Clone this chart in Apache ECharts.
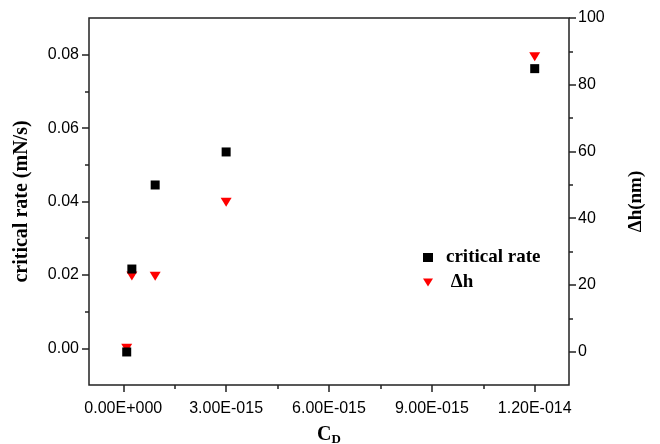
<!DOCTYPE html>
<html>
<head>
<meta charset="utf-8">
<script src="https://cdn.jsdelivr.net/npm/echarts@6/dist/echarts.min.js"></script>
<style>html,body{margin:0;padding:0;background:#fff}#chart{width:660px;height:444px}</style>
</head>
<body>
<div id="chart"></div>
<script>
// C_D values and the two measured quantities
const cd = [1e-16, 2.5e-16, 9.3e-16, 3.0e-15, 1.2e-14];
const criticalRate = [-0.001, 0.0216, 0.0445, 0.0535, 0.0762];
const deltaH = [1, 22.7, 22.6, 44.8, 88.4];

// axis ticks
const xTicks = [0, 3e-15, 6e-15, 9e-15, 1.2e-14];
const xTickLabels = ['0.00E+000', '3.00E-015', '6.00E-015', '9.00E-015', '1.20E-014'];
const xMinor = [1.5e-15, 4.5e-15, 7.5e-15, 1.05e-14];
const leftTicks = [0, 0.02, 0.04, 0.06, 0.08];
const leftTickLabels = ['0.00', '0.02', '0.04', '0.06', '0.08'];
const leftMinor = [0.01, 0.03, 0.05, 0.07];
const rightTicks = [0, 20, 40, 60, 80, 100];
const rightMinor = [10, 30, 50, 70, 90];

const lineCol = '#222';
const sans = 'Liberation Sans';
const serif = 'Liberation Serif';

function pick(values, labels, v) {
    let best = 0;
    values.forEach((x, i) => {
        if (Math.abs(x - v) < Math.abs(values[best] - v)) best = i;
    });
    return labels[best];
}

const minorAxis = (extra) => Object.assign({
    type: 'value',
    axisLine: { show: false, onZero: false },
    axisLabel: { show: false },
    splitLine: { show: false },
}, extra);

const chart = echarts.init(document.getElementById('chart'));
chart.setOption({
    backgroundColor: '#fff',
    animation: false,
    grid: {
        left: 89, right: 91, top: 18, bottom: 59,
        outerBoundsMode: 'none',
        show: true, borderColor: lineCol, borderWidth: 1.5
    },
    legend: {
        left: 418, top: 243, orient: 'vertical',
        itemWidth: 10, itemHeight: 9, itemGap: 6,
        textStyle: { fontFamily: serif, fontWeight: 'bold', fontSize: 19, color: '#000', padding: [0, 0, 0, 8] },
        data: [
            { name: 'critical rate', icon: 'rect' },
            { name: 'Δh', icon: 'path://M0,0L10,0L5,8Z' }
        ],
        formatter: (n) => n === 'Δh' ? ' Δh' : n
    },
    xAxis: [
        {
            type: 'value', position: 'bottom', min: -1e-15, max: 1.3e-14,
            axisLine: { show: false, onZero: false },
            axisTick: { customValues: xTicks, length: 7, lineStyle: { color: lineCol, width: 1.5 } },
            axisLabel: {
                customValues: xTicks, margin: 16,
                fontFamily: sans, fontSize: 16, color: '#000',
                formatter: (v) => pick(xTicks, xTickLabels, v)
            },
            splitLine: { show: false },
            name: '{c|C}{d|D}', nameLocation: 'middle', nameGap: 38,
            nameTextStyle: {
                rich: {
                    c: { fontFamily: serif, fontWeight: 'bold', fontSize: 20, color: '#000' },
                    d: { fontFamily: serif, fontWeight: 'bold', fontSize: 13, color: '#000', padding: [10, 0, 0, 0] }
                }
            }
        },
        minorAxis({
            position: 'bottom', min: -1e-15, max: 1.3e-14,
            axisTick: { customValues: xMinor, length: 4, lineStyle: { color: lineCol, width: 1.5 } }
        })
    ],
    yAxis: [
        {
            type: 'value', position: 'left', min: -0.01, max: 0.09,
            axisLine: { show: false, onZero: false },
            axisTick: { customValues: leftTicks, length: 7, lineStyle: { color: lineCol, width: 1.5 } },
            axisLabel: {
                customValues: leftTicks, margin: 10,
                fontFamily: sans, fontSize: 16, color: '#000',
                formatter: (v) => pick(leftTicks, leftTickLabels, v)
            },
            splitLine: { show: false },
            name: 'critical rate (mN/s)', nameLocation: 'middle', nameRotate: 90, nameGap: 57,
            nameTextStyle: { fontFamily: serif, fontWeight: 'bold', fontSize: 20, color: '#000' }
        },
        minorAxis({
            position: 'left', min: -0.01, max: 0.09,
            axisTick: { customValues: leftMinor, length: 4, lineStyle: { color: lineCol, width: 1.5 } }
        }),
        {
            type: 'value', position: 'right', min: -10, max: 100,
            axisLine: { show: false, onZero: false },
            axisTick: { customValues: rightTicks, length: 7, lineStyle: { color: lineCol, width: 1.5 } },
            axisLabel: {
                customValues: rightTicks, margin: 9,
                fontFamily: sans, fontSize: 16, color: '#000'
            },
            splitLine: { show: false },
            name: 'Δh(nm)', nameLocation: 'middle', nameRotate: 90, nameGap: 58,
            nameTextStyle: { fontFamily: serif, fontWeight: 'bold', fontSize: 19, color: '#000' }
        },
        minorAxis({
            position: 'right', min: -10, max: 100,
            axisTick: { customValues: rightMinor, length: 4, lineStyle: { color: lineCol, width: 1.5 } }
        })
    ],
    series: [
        {
            name: 'critical rate', type: 'scatter',
            xAxisIndex: 0, yAxisIndex: 0, z: 3,
            symbol: 'rect', symbolSize: 9,
            itemStyle: { color: '#000', opacity: 1 },
            data: cd.map((x, i) => [x, criticalRate[i]])
        },
        {
            name: 'Δh', type: 'scatter',
            xAxisIndex: 0, yAxisIndex: 2, z: 2,
            symbol: 'triangle', symbolRotate: 180, symbolSize: [11, 9],
            itemStyle: { color: '#f00', opacity: 1 },
            data: cd.map((x, i) => [x, deltaH[i]])
        }
    ]
});
</script>
</body>
</html>
